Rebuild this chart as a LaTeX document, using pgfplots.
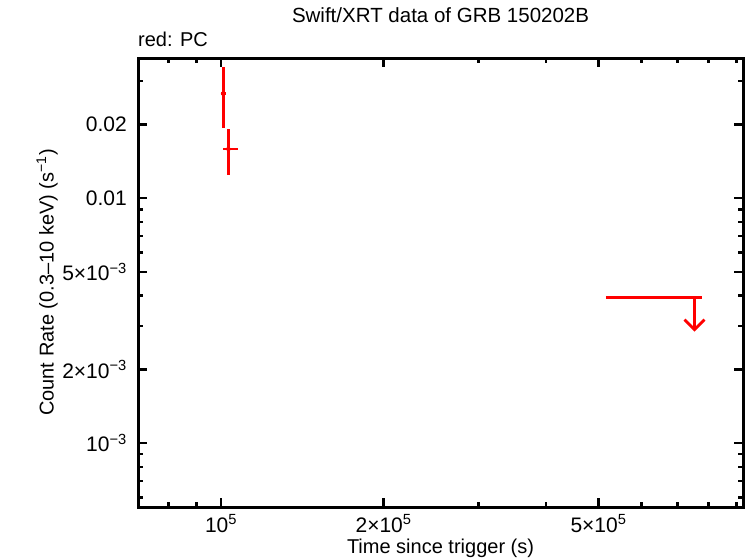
\documentclass[border=0pt]{standalone}
\usepackage{pgfplots}
\pgfplotsset{compat=1.18}
\usepackage{fontspec}
\setmainfont{Liberation Sans}
\usetikzlibrary{arrows.meta}

\begin{document}
\fontsize{20}{23}\selectfont
\begin{tikzpicture}
\useasboundingbox (-138pt,-51pt) rectangle (608pt,507pt);
\begin{axis}[
    at={(0pt,0pt)}, anchor=south west,
    scale only axis, width=605pt, height=449pt,
    xmode=log, ymode=log,
    xmin=7.02e4, xmax=9.26e5,
    ymin=5.48e-4, ymax=0.0373,
    axis line style={line width=3pt, line join=miter},
    tick align=inside,
    major tick length=9pt, minor tick length=5pt,
    tick style={black, line width=2.5pt},
    xtick={1e5,2e5,5e5},
    xticklabels={10\textsuperscript{5}, 2×10\textsuperscript{5}, 5×10\textsuperscript{5}},
    minor xtick={8e4,9e4,3e5,4e5,6e5,7e5,8e5,9e5},
    ytick={0.001,0.002,0.005,0.01,0.02},
    yticklabels={10\textsuperscript{−3}, 2×10\textsuperscript{−3}, 5×10\textsuperscript{−3}, 0.01, 0.02},
    minor ytick={6e-4,7e-4,8e-4,9e-4,3e-3,4e-3,6e-3,7e-3,8e-3,9e-3,0.03},
    ticklabel style={font=\fontsize{21}{24}\selectfont},
    xticklabel style={anchor=base, inner sep=0pt, yshift=-25pt},
    yticklabel style={anchor=east, inner sep=0pt, xshift=-11pt},
    xlabel={Time since trigger (s)},
    xlabel style={at={(axis description cs:0.5,-0.1025)}, anchor=base},
    ylabel={Count Rate (0.3–10 keV) (s\textsuperscript{−1})},
    ylabel style={at={(axis description cs:-0.1504,0.5)}, anchor=center},
    title={Swift/XRT data of GRB 150202B},
    title style={at={(axis description cs:0.5,1.0668)}, anchor=base, font=\fontsize{20.5}{23}\selectfont},
  ]
  % PC mode detections
  \addplot[red, only marks, mark=none,
    error bars/.cd, x dir=both, x explicit, y dir=both, y explicit,
    error mark=none, error bar style={red, line width=2.8pt}]
    coordinates {
      (1.009e5,0.0267) += (1100,0.0076) -= (900,0.0073)
      (1.032e5,0.01585) += (4100,0.00325) -= (2200,0.0034)
    };
  % upper limit
  \addplot[red, line width=2.8pt] coordinates {(5.16e5,3.93e-3) (7.77e5,3.93e-3)};
  \addplot[red, line width=2.8pt, -{Straight Barb[length=10pt, width=20pt]}]
    coordinates {(7.53e5,3.93e-3) (7.53e5,2.85e-3)};
\end{axis}
\node[anchor=base west, inner sep=0pt] at (0pt,460pt) {red: PC};
\end{tikzpicture}
\end{document}
